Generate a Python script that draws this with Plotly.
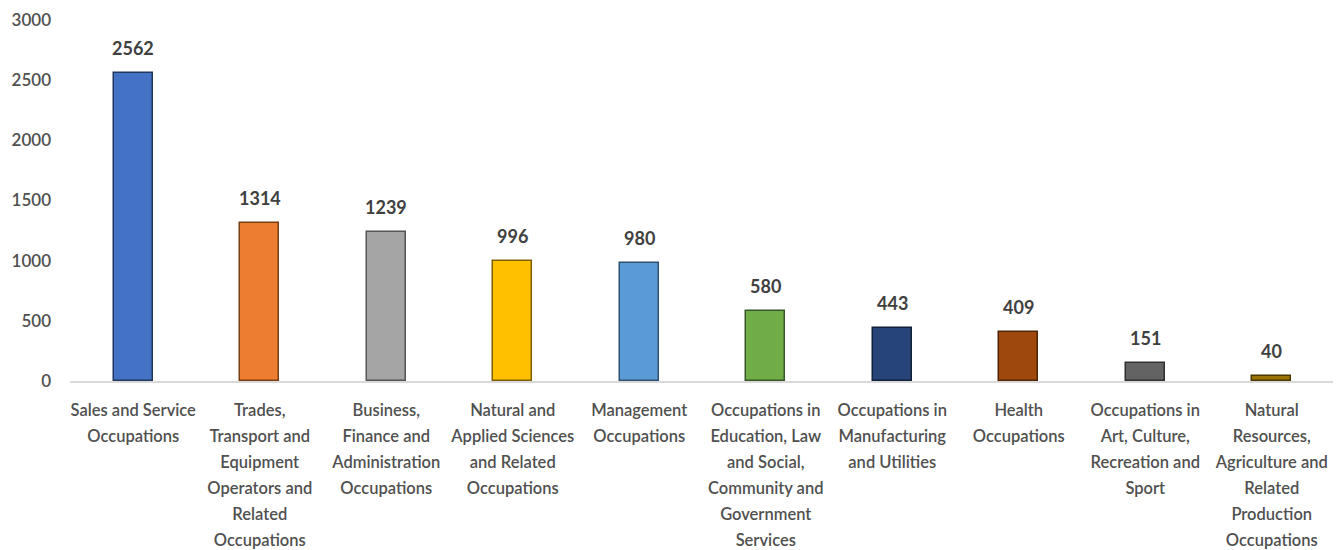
import plotly.graph_objects as go

categories = [
    "Sales and Service<br>Occupations",
    "Trades,<br>Transport and<br>Equipment<br>Operators and<br>Related<br>Occupations",
    "Business,<br>Finance and<br>Administration<br>Occupations",
    "Natural and<br>Applied Sciences<br>and Related<br>Occupations",
    "Management<br>Occupations",
    "Occupations in<br>Education, Law<br>and Social,<br>Community and<br>Government<br>Services",
    "Occupations in<br>Manufacturing<br>and Utilities",
    "Health<br>Occupations",
    "Occupations in<br>Art, Culture,<br>Recreation and<br>Sport",
    "Natural<br>Resources,<br>Agriculture and<br>Related<br>Production<br>Occupations",
]
values = [2562, 1314, 1239, 996, 980, 580, 443, 409, 151, 40]
colors = ["#4472C4", "#ED7D31", "#A5A5A5", "#FFC000", "#5B9BD5",
          "#70AD47", "#264478", "#9E480E", "#636363", "#997300"]
edge_colors = ["#20375F", "#7A3E15", "#555555", "#7F6000", "#2E5173",
               "#38572A", "#12213A", "#4F2407", "#303030", "#4C3900"]
y_ticks = [0, 500, 1000, 1500, 2000, 2500, 3000]

ticktext = ["<br>".join('<span style="font-size:16.5px">' + part + '</span>'
                        for part in c.split("<br>")) for c in categories]

fig = go.Figure()
fig.add_trace(go.Bar(
    x=list(range(len(categories))),
    y=values,
    width=0.31,
    marker=dict(color=colors, line=dict(color=edge_colors, width=1.5)),
    hoverinfo="skip",
))

for i, v in enumerate(values):
    fig.add_annotation(x=i, y=v, text="<b>%d</b>" % v, showarrow=False,
                       yanchor="bottom", yshift=12,
                       font=dict(family="Lato", size=18, color="#404040"))

# page body has an 8px margin, so the figure is offset by 8px
fig.update_layout(
    width=1333, height=542,
    margin=dict(l=62, r=6, t=12, b=169),
    paper_bgcolor="white", plot_bgcolor="white",
    showlegend=False,
    bargap=0,
    font=dict(family="Lato", color="#595959"),
)
fig.update_xaxes(
    tickmode="array", tickvals=list(range(len(categories))), ticktext=ticktext,
    range=[-0.5, len(categories) - 0.5],
    showline=True, linecolor="#D9D9D9", linewidth=2,
    showgrid=False, zeroline=False, ticks="",
    tickfont=dict(family="Lato", size=20, color="#505050", weight=600),
    ticklabelstandoff=9, tickangle=0, automargin=False,
)
fig.update_yaxes(
    range=[0, 3000], tickvals=y_ticks, ticktext=[str(t) for t in y_ticks],
    showgrid=False, zeroline=False, showline=False, ticks="",
    tickfont=dict(family="Lato", size=17, color="#505050", weight=600),
    ticklabelstandoff=18, automargin=False,
)

fig.write_html("out.html")
